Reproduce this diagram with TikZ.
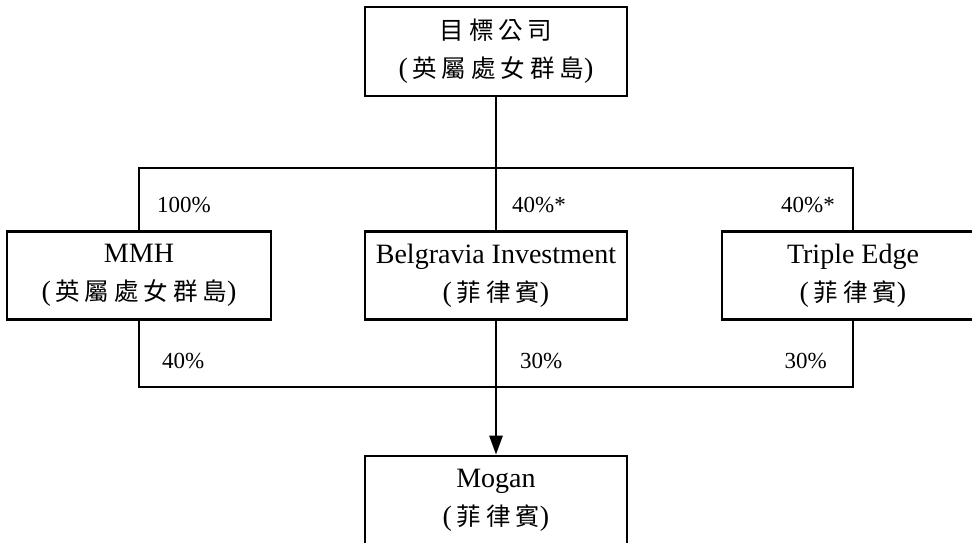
\documentclass[tikz,border=0pt]{standalone}
\usepackage{fontspec}
\setmainfont{Liberation Serif}
\newfontfamily\cjkfont[LetterSpace=20]{Noto Sans CJK TC}
\usetikzlibrary{arrows.meta}
\newcommand{\zh}[1]{{\cjkfont\fontsize{24.5}{38}\selectfont #1}}
\tikzset{
  box/.style={draw, line width=2.7pt, minimum width=262pt, minimum height=88pt, inner sep=0pt, align=center, font=\fontsize{28}{38}\selectfont},
  pct/.style={inner sep=0pt, font=\fontsize{23}{28}\selectfont},
  link/.style={line width=2.7pt}
}
\begin{document}
\begin{tikzpicture}[x=1pt,y=-1pt]
\useasboundingbox (0,0) rectangle (972,542);
\clip (0,0) rectangle (972,542);
\node[box, minimum height=89pt] (top) at (496,51.5) {\zh{目標公司}\\(\,\zh{英屬處女群島})};
\node[box, minimum width=264pt] (mmh) at (139,275.5) {MMH\\(\,\zh{英屬處女群島})};
\node[box] (bel) at (496,275.5) {Belgravia Investment\\(\,\zh{菲律賓})};
\node[box] (tri) at (853,275.5) {Triple Edge\\(\,\zh{菲律賓})};
\node[box] (mog) at (496,500) {Mogan\\(\,\zh{菲律賓})};
\coordinate (tj) at (496,168);
\coordinate (bj) at (496,387);
\draw[link] (top.south) -- (tj);
\draw[link] (mmh.north) |- (tj) -| (tri.north);
\draw[link] (tj) -- (bel.north);
\draw[link] (mmh.south) |- (bj) -| (tri.south);
\draw[link, -{Triangle[length=19pt,width=13pt]}] (bel.south) -- (mog.north);
\node[pct, anchor=west] (p1) at (157,205) {100\%};
\node[pct, anchor=west] (p2) at (512,205) {40\%*};
\node[pct, anchor=east] (p3) at (835,205) {40\%*};
\node[pct, anchor=west] (p4) at (162,361) {40\%};
\node[pct, anchor=west] (p5) at (520,361) {30\%};
\node[pct, anchor=east] (p6) at (827,361) {30\%};
\end{tikzpicture}
\end{document}
